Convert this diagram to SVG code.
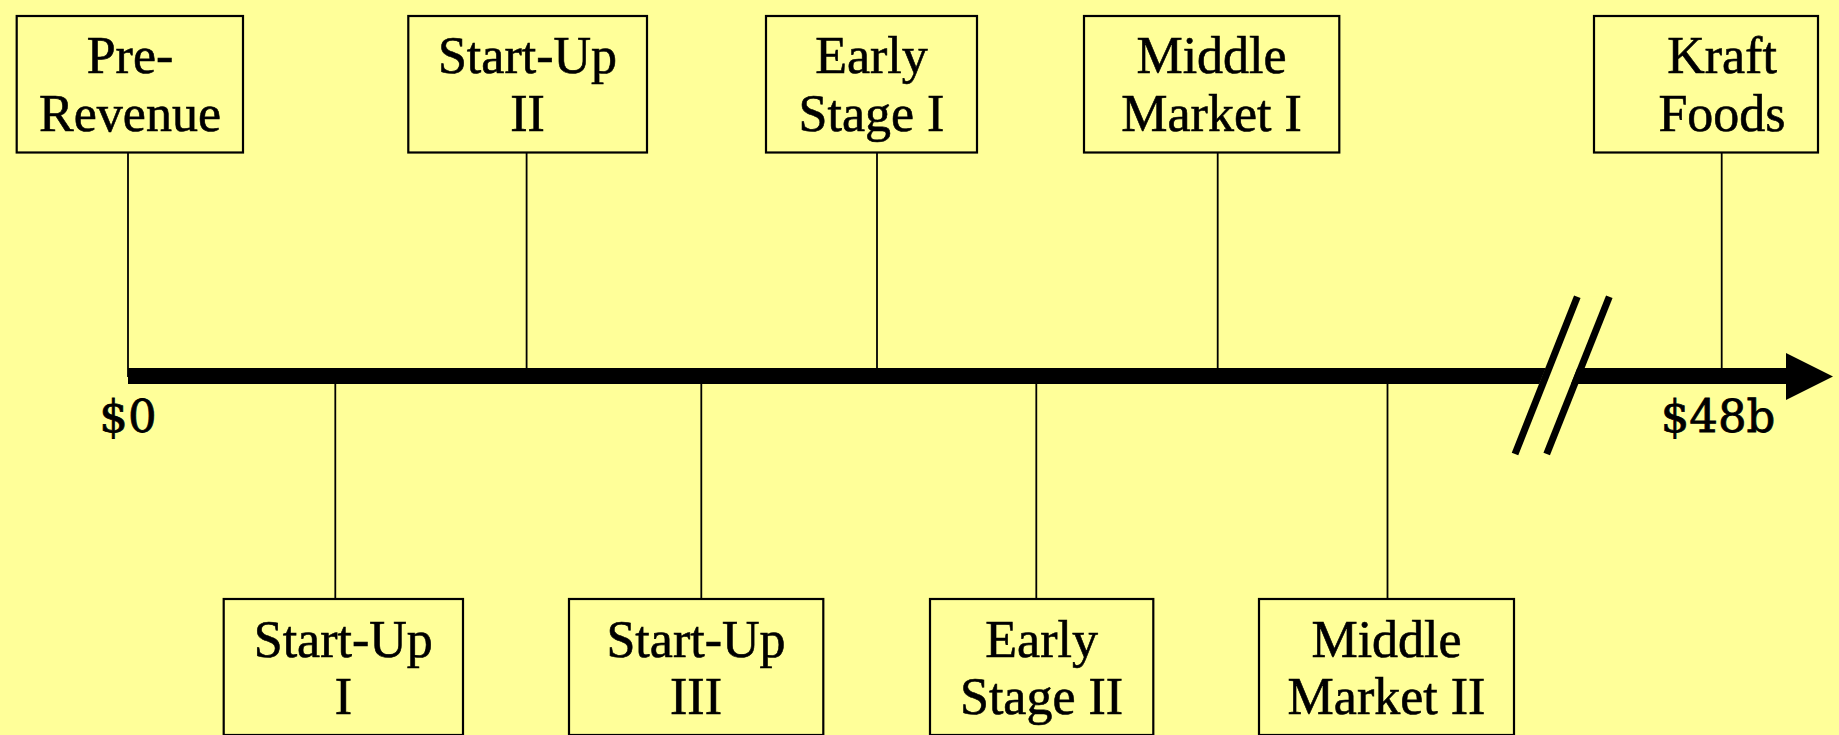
<svg xmlns="http://www.w3.org/2000/svg" width="1839" height="735" viewBox="0 0 1839 735">
<style>
.box{fill:#ffff99;stroke:#000;stroke-width:2.2}
.lbl{font-family:"Liberation Serif","Times New Roman",serif;font-size:52px;fill:#000;stroke:#000;stroke-width:0.6;text-anchor:middle}
.val{font-family:"DejaVu Serif","Liberation Serif",serif;font-size:45px;fill:#000;stroke:#000;stroke-width:0.8;text-anchor:middle}
.con{stroke:#000;stroke-width:1.8;fill:none}
</style>
<rect x="0" y="0" width="1839" height="735" fill="#ffff99"/>
<g id="connectors">
<line class="con" x1="128" y1="152.5" x2="128" y2="377"/>
<line class="con" x1="526.6" y1="152.5" x2="526.6" y2="370"/>
<line class="con" x1="877" y1="152.5" x2="877" y2="370"/>
<line class="con" x1="1217.7" y1="152.5" x2="1217.7" y2="370"/>
<line class="con" x1="1721.7" y1="152.5" x2="1721.7" y2="370"/>
<line class="con" x1="335.3" y1="382" x2="335.3" y2="599"/>
<line class="con" x1="701.3" y1="382" x2="701.3" y2="599"/>
<line class="con" x1="1036.3" y1="382" x2="1036.3" y2="599"/>
<line class="con" x1="1387.5" y1="382" x2="1387.5" y2="599"/>
</g>
<g id="axis">
<line x1="128" y1="376" x2="1790" y2="376" stroke="#000" stroke-width="16"/>
<polygon points="1786,353 1833,376.5 1786,400" fill="#000"/>
<polygon points="1574,296.7 1605.3,296.7 1543.5,454 1511.5,454" fill="#ffff99"/>
<line x1="1577.3" y1="296.7" x2="1515" y2="454" stroke="#000" stroke-width="7"/>
<line x1="1609.3" y1="296.7" x2="1546.7" y2="454" stroke="#000" stroke-width="7"/>
<text class="val" x="128" y="432">$0</text>
<text class="val" x="1718" y="432">$48b</text>
</g>
<g id="pre-revenue">
<rect class="box" x="16.7" y="16" width="226.3" height="136.5"/>
<text class="lbl" x="130" y="73">Pre-</text>
<text class="lbl" x="130" y="131">Revenue</text>
</g>
<g id="start-up-ii">
<rect class="box" x="408.3" y="16" width="238.7" height="136.5"/>
<text class="lbl" x="527.5" y="73">Start-Up</text>
<text class="lbl" x="527.5" y="131">II</text>
</g>
<g id="early-stage-i">
<rect class="box" x="766" y="16" width="211" height="136.5"/>
<text class="lbl" x="871.5" y="73">Early</text>
<text class="lbl" x="871.5" y="131">Stage I</text>
</g>
<g id="middle-market-i">
<rect class="box" x="1084" y="16" width="255.3" height="136.5"/>
<text class="lbl" x="1211.5" y="73">Middle</text>
<text class="lbl" x="1211.5" y="131">Market I</text>
</g>
<g id="kraft-foods">
<rect class="box" x="1594" y="16" width="224" height="136.5"/>
<text class="lbl" x="1722" y="73">Kraft</text>
<text class="lbl" x="1722" y="131">Foods</text>
</g>
<g id="start-up-i">
<rect class="box" x="223.7" y="599" width="239.3" height="136"/>
<text class="lbl" x="343.3" y="657">Start-Up</text>
<text class="lbl" x="343.3" y="714">I</text>
</g>
<g id="start-up-iii">
<rect class="box" x="569" y="599" width="254.3" height="136"/>
<text class="lbl" x="696" y="657">Start-Up</text>
<text class="lbl" x="696" y="714">III</text>
</g>
<g id="early-stage-ii">
<rect class="box" x="930" y="599" width="223.3" height="136"/>
<text class="lbl" x="1041.6" y="657">Early</text>
<text class="lbl" x="1041.6" y="714">Stage II</text>
</g>
<g id="middle-market-ii">
<rect class="box" x="1259" y="599" width="255" height="136"/>
<text class="lbl" x="1386.5" y="657">Middle</text>
<text class="lbl" x="1386.5" y="714">Market II</text>
</g>
</svg>
